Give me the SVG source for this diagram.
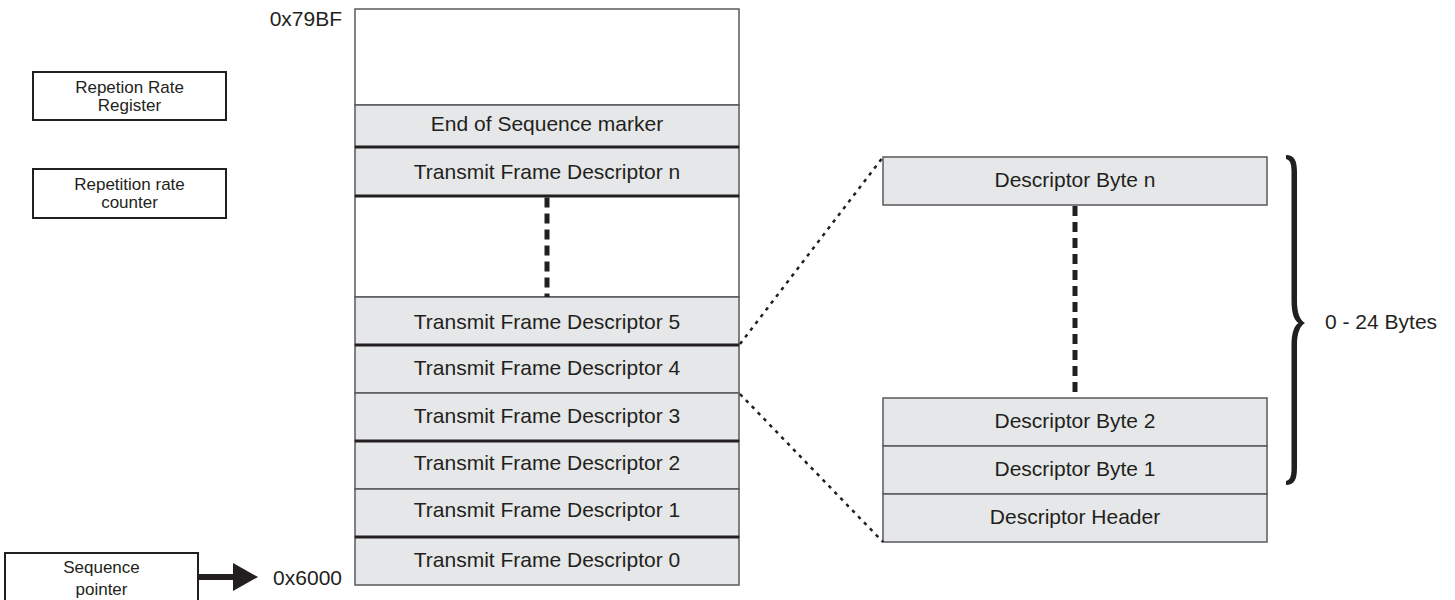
<svg xmlns="http://www.w3.org/2000/svg" width="1455" height="600" viewBox="0 0 1455 600">
<defs>
<style>
.t{font-family:"Liberation Sans",Arial,sans-serif;fill:#231f20;text-anchor:middle}
.big{font-size:21px}
.sm{font-size:17px}
.end{text-anchor:end}
.start{text-anchor:start}
.row{fill:#e6e7e8;stroke:#58595b;stroke-width:1.5}
.blank{fill:#fff;stroke:#58595b;stroke-width:1.5}
.sep{stroke:#231f20;stroke-width:3}
.box{fill:#fff;stroke:#231f20;stroke-width:2}
.dot{fill:none;stroke:#231f20;stroke-width:2.5;stroke-dasharray:3.5 5}
.dash{fill:none;stroke:#231f20;stroke-width:5;stroke-dasharray:10 6}
</style>
<marker id="arrow" markerUnits="userSpaceOnUse" markerWidth="26" markerHeight="28" refX="0" refY="14" orient="auto">
<path d="M0,0 L25,14 L0,28 Z" fill="#231f20"/>
</marker>
</defs>
<rect width="1455" height="600" fill="#fff"/>

<g id="repetition-rate-register">
<rect class="box" x="33" y="72" width="193" height="48"/>
<text class="t sm" x="129.5" y="93">Repetion Rate</text>
<text class="t sm" x="129.5" y="111">Register</text>
</g>
<g id="repetition-rate-counter">
<rect class="box" x="33" y="169" width="193" height="49"/>
<text class="t sm" x="129.5" y="190">Repetition rate</text>
<text class="t sm" x="129.5" y="208">counter</text>
</g>
<g id="sequence-pointer">
<rect class="box" x="5" y="553" width="193" height="60"/>
<text class="t sm" x="101.5" y="573">Sequence</text>
<text class="t sm" x="101.5" y="595">pointer</text>
</g>

<g id="address-labels">
<text class="t big end" x="342" y="26">0x79BF</text>
<text class="t big end" x="342" y="585">0x6000</text>
</g>

<g id="memory-free">
<rect class="blank" x="355" y="9" width="384" height="96"/>
</g>
<g id="end-of-sequence">
<rect class="row" x="355" y="105" width="384" height="42"/>
<text class="t big" x="547" y="131">End of Sequence marker</text>
</g>
<g id="tfd-n">
<rect class="row" x="355" y="147" width="384" height="49"/>
<text class="t big" x="547" y="179">Transmit Frame Descriptor n</text>
</g>
<g id="tfd-gap">
<rect class="blank" x="355" y="196" width="384" height="101"/>
</g>
<g id="tfd-5">
<rect class="row" x="355" y="297" width="384" height="48"/>
<text class="t big" x="547" y="329">Transmit Frame Descriptor 5</text>
</g>
<g id="tfd-4">
<rect class="row" x="355" y="345" width="384" height="48"/>
<text class="t big" x="547" y="375">Transmit Frame Descriptor 4</text>
</g>
<g id="tfd-3">
<rect class="row" x="355" y="393" width="384" height="48"/>
<text class="t big" x="547" y="423">Transmit Frame Descriptor 3</text>
</g>
<g id="tfd-2">
<rect class="row" x="355" y="441" width="384" height="48"/>
<text class="t big" x="547" y="470">Transmit Frame Descriptor 2</text>
</g>
<g id="tfd-1">
<rect class="row" x="355" y="489" width="384" height="48"/>
<text class="t big" x="547" y="517">Transmit Frame Descriptor 1</text>
</g>
<g id="tfd-0">
<rect class="row" x="355" y="537" width="384" height="48"/>
<text class="t big" x="547" y="567">Transmit Frame Descriptor 0</text>
</g>
<g id="memory-separators">
<line class="sep" x1="355" y1="147" x2="739" y2="147"/>
<line class="sep" x1="355" y1="196" x2="739" y2="196"/>
<line class="sep" x1="355" y1="345" x2="739" y2="345"/>
<line class="sep" x1="355" y1="441" x2="739" y2="441"/>
<line class="sep" x1="355" y1="537" x2="739" y2="537"/>
</g>

<g id="descriptor-byte-n">
<rect class="row" x="883" y="157" width="384" height="48"/>
<text class="t big" x="1075" y="187">Descriptor Byte n</text>
</g>
<g id="descriptor-byte-2">
<rect class="row" x="883" y="398" width="384" height="48"/>
<text class="t big" x="1075" y="428">Descriptor Byte 2</text>
</g>
<g id="descriptor-byte-1">
<rect class="row" x="883" y="446" width="384" height="48"/>
<text class="t big" x="1075" y="476">Descriptor Byte 1</text>
</g>
<g id="descriptor-header">
<rect class="row" x="883" y="494" width="384" height="48"/>
<text class="t big" x="1075" y="524">Descriptor Header</text>
</g>

<g id="brace">
<path fill="#231f20" d="M1286,155 C1294,155 1297,160 1297,172 L1297,301 C1297,313 1300,320 1305,323 C1300,326 1297,333 1297,345 L1297,468 C1297,480 1294,485 1286,485 L1286,481 C1290,480 1291.5,477 1291.5,468 L1291.5,345 C1291.5,333 1294,326 1298.5,323 C1294,320 1291.5,313 1291.5,301 L1291.5,172 C1291.5,163 1290,160 1286,159 Z"/>
<text class="t big start" x="1325" y="329">0 - 24 Bytes</text>
</g>

<g id="connectors">
<line x1="198" y1="577" x2="233" y2="577" stroke="#231f20" stroke-width="6" marker-end="url(#arrow)"/>
<line class="dash" x1="547" y1="197.5" x2="547" y2="297"/>
<line class="dash" x1="1075" y1="206" x2="1075" y2="398"/>
<line class="dot" x1="740" y1="344" x2="883" y2="157"/>
<line class="dot" x1="740" y1="394" x2="883" y2="542"/>
</g>
</svg>
